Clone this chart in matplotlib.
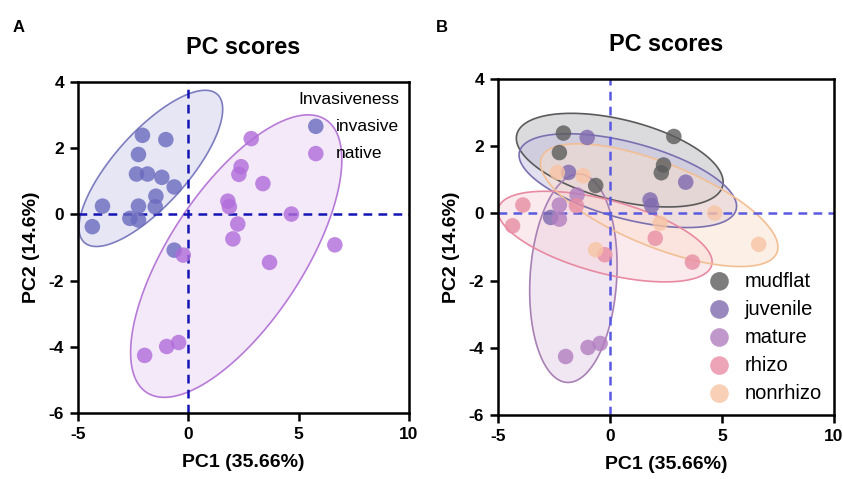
import numpy as np
import matplotlib
matplotlib.use("Agg")
import matplotlib.pyplot as plt
from matplotlib.patches import Polygon

plt.rcParams['font.family'] = ['Liberation Sans', 'DejaVu Sans']
plt.rcParams['axes.unicode_minus'] = False

# ---------------- data ----------------
invasive_x = [-2.08, -1.02, -2.26, -2.35, -1.85, -1.20, -0.64, -1.47, -3.89, -2.26, -1.50, -2.65, -2.26, -4.35, -0.64]
invasive_y = [2.39, 2.26, 1.81, 1.22, 1.22, 1.12, 0.83, 0.55, 0.25, 0.25, 0.23, -0.12, -0.17, -0.37, -1.08]
native_x = [2.85, 2.39, 2.29, 3.38, 1.79, 1.86, 4.67, 2.24, 2.02, 6.64, -0.23, 3.68, -0.44, -0.98, -1.98]
native_y = [2.29, 1.44, 1.21, 0.93, 0.40, 0.23, 0.01, -0.29, -0.74, -0.92, -1.23, -1.45, -3.87, -3.99, -4.26]

mudflat_x = [-2.08, 2.85, -2.26, 2.39, 2.29, -0.64]
mudflat_y = [2.39, 2.29, 1.81, 1.44, 1.21, 0.83]
juvenile_x = [-1.02, -1.85, 3.38, 1.79, 1.86, -2.65]
juvenile_y = [2.26, 1.22, 0.93, 0.40, 0.23, -0.12]
mature_x = [-1.47, -2.26, -2.26, -0.44, -0.98, -1.98]
mature_y = [0.55, 0.25, -0.17, -3.87, -3.99, -4.26]
rhizo_x = [-3.89, -4.35, 2.02, -0.23, 3.68, -1.50]
rhizo_y = [0.25, -0.37, -0.74, -1.23, -1.45, 0.23]
nonrhizo_x = [-2.35, -1.20, 2.24, 4.67, 6.64, -0.64]
nonrhizo_y = [1.22, 1.12, -0.29, 0.01, -0.92, -1.08]

x_ticks = [-5, 0, 5, 10]
y_ticks = [-6, -4, -2, 0, 2, 4]

# hand-drawn group ellipses: major-axis tips (data) and minor/major ratio
ellA = {
    'invasive': ((1.31, 3.63), (-4.71, -0.85), 0.37),
    'native': ((6.23, 2.86), (-1.89, -5.38), 0.41),
}
ellB = {
    'mudflat': ((5.03, 0.82), (-4.16, 2.35), 0.38),
    'juvenile': ((5.63, 0.11), (-4.04, 1.84), 0.34),
    'mature': ((-1.35, 1.17), (-1.92, -5.03), 0.415),
    'rhizo': ((4.54, -1.54), (-4.98, 0.16), 0.33),
    'nonrhizo': ((7.45, -1.17), (-3.06, 1.66), 0.33),
}

W, H = 843, 479
fig = plt.figure(figsize=(W / 100, H / 100), dpi=100)


def add_ax(l, t, r, b):
    return fig.add_axes([l / W, 1 - b / H, (r - l) / W, (b - t) / H])


def draw_ellipse(ax, tip1, tip2, ratio, fc, ec, falpha):
    T = ax.transData
    p1 = T.transform(tip1)
    p2 = T.transform(tip2)
    c = (p1 + p2) / 2
    d = (p2 - p1) / 2
    a = np.hypot(*d)
    u = d / a
    v = np.array([-u[1], u[0]])
    t = np.linspace(0, 2 * np.pi, 200)
    pts = c + np.outer(np.cos(t), d) + np.outer(np.sin(t), v * a * ratio)
    dpts = T.inverted().transform(pts)
    ax.add_patch(Polygon(dpts, closed=True, facecolor=fc, alpha=falpha,
                         edgecolor='none', zorder=1))
    ax.add_patch(Polygon(dpts, closed=True, facecolor='none', edgecolor=ec,
                         lw=1.2, zorder=1.5))


def style(ax, dash_color):
    ax.set_xlim(-5, 10)
    ax.set_ylim(-6, 4)
    ax.set_xticks(x_ticks)
    ax.set_yticks(y_ticks)
    for s in ax.spines.values():
        s.set_linewidth(1.8)
    ax.tick_params(width=1.8, length=6, labelsize=12.5, pad=4)
    for lab in ax.get_xticklabels() + ax.get_yticklabels():
        lab.set_fontweight('bold')
    ax.axhline(0, color=dash_color, lw=1.8, ls=(0, (3.5, 2.5)), zorder=2)
    ax.axvline(0, color=dash_color, lw=1.8, ls=(0, (3.5, 2.5)), zorder=2)
    ax.set_title('PC scores', fontsize=16.8, fontweight='bold', pad=20)
    ax.set_xlabel('PC1 (35.66%)', fontsize=14, fontweight='bold', labelpad=9)
    ax.set_ylabel('PC2 (14.6%)', fontsize=14, fontweight='bold', labelpad=6)


# ---------------- Panel A ----------------
axA = add_ax(78, 82, 409, 413)
style(axA, '#1414b4')
colA = {'invasive': '#6a6abf', 'native': '#b06cda'}
draw_ellipse(axA, *ellA['invasive'], fc='#c8c8e8', ec='#7c7cc0', falpha=0.45)
draw_ellipse(axA, *ellA['native'], fc='#ecd8f4', ec='#b77ad8', falpha=0.55)
axA.scatter(invasive_x, invasive_y, s=125, color=colA['invasive'], alpha=0.8,
            edgecolors='none', zorder=3, label='invasive')
axA.scatter(native_x, native_y, s=125, color=colA['native'], alpha=0.8,
            edgecolors='none', zorder=3, label='native')
legA = axA.legend(title='Invasiveness', loc='upper right', frameon=False,
                  fontsize=12.5, title_fontsize=12.5, handletextpad=0.15,
                  borderaxespad=0.15, labelspacing=0.7, markerscale=1.0)
legA._legend_box.align = 'left'

# ---------------- Panel B ----------------
axB = add_ax(498, 79, 834, 415)
style(axB, '#5a5ae0')
groups = [
    ('mudflat', mudflat_x, mudflat_y, '#5c5c5c', '#b8b8be', '#5a5a5a'),
    ('juvenile', juvenile_x, juvenile_y, '#7f6aae', '#c6c0e0', '#7a70b0'),
    ('mature', mature_x, mature_y, '#b27ec0', '#e2d0e8', '#a880b4'),
    ('rhizo', rhizo_x, rhizo_y, '#e88ea4', '#f6d4dc', '#e88aa2'),
    ('nonrhizo', nonrhizo_x, nonrhizo_y, '#f8c4a4', '#fbe0cf', '#f2bf94'),
]
for name, gx, gy, pc, fc, ec in groups:
    draw_ellipse(axB, *ellB[name], fc=fc, ec=ec, falpha=0.5)
for name, gx, gy, pc, fc, ec in groups:
    axB.scatter(gx, gy, s=125, color=pc, alpha=0.8, edgecolors='none',
                zorder=3, label=name)
axB.legend(loc='lower right', frameon=False, fontsize=14.5, handletextpad=0.25,
           borderaxespad=0.2, labelspacing=0.45, markerscale=1.2)

fig.text(13 / W, 1 - 27 / H, 'A', fontsize=12, fontweight='bold', va='center')
fig.text(436 / W, 1 - 27 / H, 'B', fontsize=12, fontweight='bold', va='center')

fig.savefig('out.png', dpi=100)
